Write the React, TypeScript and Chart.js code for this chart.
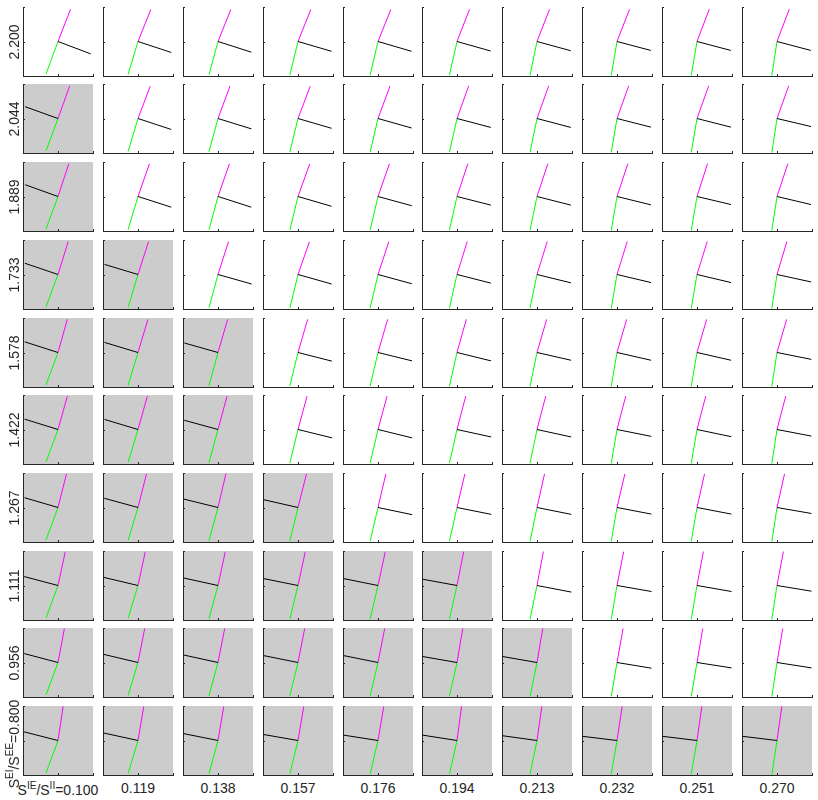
import React, { useEffect, useRef } from "react";
import { Chart, registerables } from "chart.js";

Chart.register(...registerables);

// Column parameter S^IE/S^II (left -> right)
const xRatioLabels = ["0.100", "0.119", "0.138", "0.157", "0.176", "0.194", "0.213", "0.232", "0.251", "0.270"];
// Row parameter S^EI/S^EE (top -> bottom)
const yRatioLabels = ["2.200", "2.044", "1.889", "1.733", "1.578", "1.422", "1.267", "1.111", "0.956", "0.800"];

// number of shaded (grey) panels from the left, per row (top -> bottom)
const shadedCounts = [0, 1, 1, 2, 3, 3, 4, 6, 7, 10];

// direction of the green segment (degrees), per column
const greenAngles = [250, 253.5, 255, 256.5, 257, 257.5, 258.5, 260.5, 260.5, 261.5];

// direction of the magenta segment (degrees), rows top -> bottom
const magentaAngles = [
  [69, 68.5, 68.5, 68.5, 68.5, 69, 69, 69, 69.5, 69.5],
  [70.5, 69.5, 70, 69.5, 70, 70.5, 70.5, 70.5, 70.5, 70.5],
  [72, 71, 71, 70.5, 71, 72, 72, 72, 72.5, 72],
  [73, 72.5, 72.5, 71, 72, 73, 73, 73, 73, 73.5],
  [74.5, 73.5, 74, 74, 74, 74.5, 74, 74, 74, 74],
  [74.5, 74.5, 75, 75, 75, 75.5, 75.5, 75.5, 75.5, 75.5],
  [76, 76, 77, 76, 77, 77, 77.5, 77, 77.5, 77.5],
  [78, 78, 78, 78, 78, 79, 79.5, 79, 79.5, 79.5],
  [79.5, 79, 79, 79, 79, 80.5, 80.5, 80, 80.5, 80.5],
  [81.5, 80.5, 80.5, 80.5, 80.5, 82.5, 82, 81.5, 82, 82],
];

// direction of the black segment (degrees), rows top -> bottom
const blackAngles = [
  [-21, -18.5, -18, -16.5, -16.5, -16, -15.5, -15, -15, -15],
  [160, -18.5, -17.5, -16.5, -16, -15, -15, -14.5, -14.5, -13.5],
  [160, -18, -18, -16.5, -15.5, -14.5, -14.5, -14, -13.5, -13.5],
  [161, 163, -16, -16, -15.5, -14.5, -14, -13.5, -13.5, -12.5],
  [162, 163, 164, -14.5, -14, -14, -13, -13, -13, -11.5],
  [162.5, 163, 164.5, -14, -14, -12.5, -12.5, -11.5, -12, -11],
  [163.5, 164.5, 166, 167, -12, -11.5, -11.5, -11, -11, -10],
  [165, 166.5, 167.5, 168.5, 168.5, 169.5, -11, -10, -10, -9.5],
  [165, 166.5, 167.5, 168.5, 168.5, 170, 170, -9.5, -9, -9],
  [165.5, 167.5, 168.5, 170, 171, 171, 172, 173, 173, 173],
];

const FONT = '"Liberation Sans", Arial, Helvetica, sans-serif';
const AXIS_COLOR = "#262626";
const PAD = 4;
const PLOT_W = 70;
const PLOT_H = 69;

const colLeft = (c: number) => Math.round(23.3 + c * 79.82);
const rowTop = (r: number) => Math.round(6.7 + r * 77.7);

const panelPlugin = {
  id: "panelDecor",
  beforeDraw(chart: any, _args: any, opts: any) {
    const { ctx, chartArea: a } = chart;
    if (opts && opts.shaded) {
      ctx.save();
      ctx.fillStyle = "#cccccc";
      ctx.fillRect(a.left, a.top, a.right - a.left, a.bottom - a.top);
      ctx.restore();
    }
  },
  afterDraw(chart: any) {
    const { ctx, chartArea: a, scales } = chart;
    ctx.save();
    ctx.strokeStyle = AXIS_COLOR;
    ctx.lineWidth = 1;
    ctx.beginPath();
    [0, 1, 2].forEach((v) => {
      const px = Math.round(scales.x.getPixelForValue(v)) + 0.5;
      ctx.moveTo(px, a.bottom);
      ctx.lineTo(px, a.bottom - 2);
      const py = Math.round(scales.y.getPixelForValue(v)) + 0.5;
      ctx.moveTo(a.left, py);
      ctx.lineTo(a.left + 2, py);
    });
    ctx.stroke();
    ctx.restore();
  },
};

const toEnd = (deg: number) => ({
  x: 1 + Math.cos((deg * Math.PI) / 180),
  y: 1 + Math.sin((deg * Math.PI) / 180),
});

const supStyle: React.CSSProperties = { fontSize: "10px", position: "relative", top: "-6px" };

export default function App() {
  const refs = useRef<(HTMLCanvasElement | null)[]>([]);

  useEffect(() => {
    const charts: Chart[] = [];
    for (let r = 0; r < 10; r++) {
      for (let c = 0; c < 10; c++) {
        const canvas = refs.current[r * 10 + c];
        if (!canvas) continue;
        const origin = { x: 1, y: 1 };
        const mk = (deg: number, color: string) => ({
          data: [origin, toEnd(deg)],
          showLine: true,
          borderColor: color,
          backgroundColor: color,
          borderWidth: 1,
          pointRadius: 0,
          pointHoverRadius: 0,
          clip: false as any,
        });
        const chart = new Chart(canvas, {
          type: "scatter",
          data: {
            datasets: [
              mk(blackAngles[r][c], "#000000"),
              mk(magentaAngles[r][c], "#ff00ff"),
              mk(greenAngles[c], "#00ff00"),
            ] as any,
          },
          options: {
            animation: false,
            responsive: false,
            devicePixelRatio: 1,
            events: [],
            layout: { padding: { left: PAD, right: PAD, top: PAD, bottom: PAD } },
            plugins: {
              legend: { display: false },
              tooltip: { enabled: false },
              panelDecor: { shaded: c < shadedCounts[r] },
            } as any,
            scales: {
              x: {
                type: "linear",
                min: 0,
                max: 2,
                grid: { display: false, drawTicks: false },
                ticks: { display: false },
                border: { display: true, color: AXIS_COLOR, width: 1 },
              },
              y: {
                type: "linear",
                min: 0,
                max: 2,
                grid: { display: false, drawTicks: false },
                ticks: { display: false },
                border: { display: true, color: AXIS_COLOR, width: 1 },
              },
            },
          },
          plugins: [panelPlugin as any],
        });
        charts.push(chart);
      }
    }
    return () => charts.forEach((ch) => ch.destroy());
  }, []);

  const canvases = [];
  for (let r = 0; r < 10; r++) {
    for (let c = 0; c < 10; c++) {
      const w = PLOT_W + 2 * PAD;
      const h = PLOT_H + 2 * PAD;
      canvases.push(
        <canvas
          key={`p${r}-${c}`}
          ref={(el) => {
            refs.current[r * 10 + c] = el;
          }}
          width={w}
          height={h}
          style={{
            position: "absolute",
            left: colLeft(c) - PAD,
            top: rowTop(r) - PAD,
            width: w,
            height: h,
          }}
        />
      );
    }
  }

  const textBase: React.CSSProperties = {
    position: "absolute",
    fontFamily: FONT,
    fontSize: "14px",
    lineHeight: "14px",
    color: AXIS_COLOR,
    whiteSpace: "nowrap",
    textAlign: "center",
  };

  const xLabels = xRatioLabels.map((lab, c) => {
    const cx = colLeft(c) + PLOT_W / 2;
    const content =
      c === 0 ? (
        <>
          S<span style={supStyle}>IE</span>/S<span style={supStyle}>II</span>={lab}
        </>
      ) : (
        lab
      );
    const baseline = c === 0 ? 795 : 793;
    return (
      <div key={`xl${c}`} style={{ ...textBase, left: cx - 60, width: 120, top: baseline - 12 }}>
        {content}
      </div>
    );
  });

  const yLabels = yRatioLabels.map((lab, r) => {
    const cy = r === 9 ? rowTop(r) + PLOT_H / 2 + 3 : rowTop(r) + PLOT_H / 2;
    const cx = 14;
    const content =
      r === 9 ? (
        <>
          S<span style={supStyle}>EI</span>/S<span style={supStyle}>EE</span>={lab}
        </>
      ) : (
        lab
      );
    return (
      <div
        key={`yl${r}`}
        style={{
          ...textBase,
          left: cx - 60,
          top: cy - 7,
          width: 120,
          height: 14,
          transform: "rotate(-90deg)",
          transformOrigin: "60px 7px",
        }}
      >
        {content}
      </div>
    );
  });

  return (
    <div
      style={{
        position: "absolute",
        left: 0,
        top: 0,
        width: 818,
        height: 800,
        background: "#ffffff",
        overflow: "hidden",
      }}
    >
      {canvases}
      {xLabels}
      {yLabels}
    </div>
  );
}
